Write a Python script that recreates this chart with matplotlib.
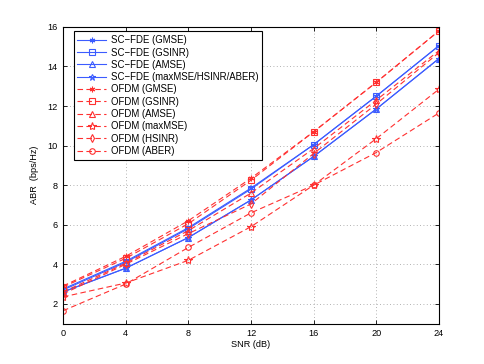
import numpy as np
import matplotlib.pyplot as plt

snr = [0, 4, 8, 12, 16, 20, 24]

# SC-FDE curves
sc_gmse = [2.75, 4.15, 5.85, 7.85, 10.05, 12.5, 15.05]
sc_gsinr = [2.7, 4.1, 5.8, 7.8, 10.05, 12.5, 15.05]
sc_amse = [2.6, 3.8, 5.35, 7.25, 9.45, 11.85, 14.4]
sc_maxmse = [2.6, 3.8, 5.35, 7.25, 9.45, 11.85, 14.4]

# OFDM curves
of_gmse = [2.9, 4.4, 6.2, 8.35, 10.7, 13.2, 15.8]
of_gsinr = [2.85, 4.3, 6.05, 8.25, 10.7, 13.2, 15.8]
of_amse = [2.6, 4.05, 5.7, 7.6, 9.85, 12.3, 14.8]
of_maxmse = [2.35, 3.05, 4.2, 5.9, 8.0, 10.35, 12.85]
of_hsinr = [2.5, 4.0, 5.55, 7.05, 9.6, 12.1, 14.7]
of_aber = [1.65, 3.0, 4.85, 6.6, 8.0, 9.65, 11.65]

blue = '#3c5cff'
red = '#ff3030'

plt.rcParams['font.family'] = ['Liberation Sans', 'DejaVu Sans']
plt.rcParams['font.size'] = 6.6

fig = plt.figure(figsize=(4.85, 3.64), dpi=100)
ax = fig.add_axes([0.130, 0.111, 0.775, 0.815])

ms = 4
lw = 0.8
ax.plot(snr, sc_gmse, '-', color=blue, marker=(6, 2, 0), ms=ms, lw=lw, mew=0.8, label='SC\u2212FDE (GMSE)')
ax.plot(snr, sc_gsinr, '-', color=blue, marker='s', mfc='none', ms=ms, lw=lw, mew=0.8, label='SC\u2212FDE (GSINR)')
ax.plot(snr, sc_amse, '-', color=blue, marker='^', mfc='none', ms=ms, lw=lw, mew=0.8, label='SC\u2212FDE (AMSE)')
ax.plot(snr, sc_maxmse, '-', color=blue, marker='*', mfc='none', ms=ms + 1, lw=lw, mew=0.8, label='SC\u2212FDE (maxMSE/HSINR/ABER)')

ax.plot(snr, of_gmse, '--', color=red, marker=(6, 2, 0), ms=ms, lw=lw, mew=0.8, dashes=(5, 3), label='OFDM (GMSE)')
ax.plot(snr, of_gsinr, '--', color=red, marker='s', mfc='none', ms=ms, lw=lw, mew=0.8, dashes=(5, 3), label='OFDM (GSINR)')
ax.plot(snr, of_amse, '--', color=red, marker='^', mfc='none', ms=ms, lw=lw, mew=0.8, dashes=(5, 3), label='OFDM (AMSE)')
ax.plot(snr, of_maxmse, '--', color=red, marker='*', mfc='none', ms=ms + 2, lw=lw, mew=0.8, dashes=(5, 3), label='OFDM (maxMSE)')
ax.plot(snr, of_hsinr, '--', color=red, marker='d', mfc='none', ms=ms, lw=lw, mew=0.8, dashes=(5, 3), label='OFDM (HSINR)')
ax.plot(snr, of_aber, '--', color=red, marker='o', mfc='none', ms=ms, lw=lw, mew=0.8, dashes=(5, 3), label='OFDM (ABER)')

ax.set_xlim(0, 24)
ax.set_ylim(1, 16)
ax.set_xticks(snr)
ax.set_yticks([2, 4, 6, 8, 10, 12, 14, 16])
ax.tick_params(direction='in', length=3, width=0.6, top=True, right=True, pad=4)
ax.grid(True, linestyle=(0, (1, 3)), color='#999999', lw=0.6)
for s in ax.spines.values():
    s.set_linewidth(0.8)

ax.set_xlabel('SNR (dB)', labelpad=1)
ax.set_ylabel('ABR  (bps/Hz)', labelpad=6)

leg = ax.legend(loc='upper left', bbox_to_anchor=(0.028, 0.985), fancybox=False,
                edgecolor='black', framealpha=1, handlelength=3.0, borderpad=0.4,
                labelspacing=0.24, handletextpad=0.5, borderaxespad=0.0, fontsize=6.9)
leg.get_frame().set_linewidth(0.8)

fig.savefig('out.png', dpi=100)
